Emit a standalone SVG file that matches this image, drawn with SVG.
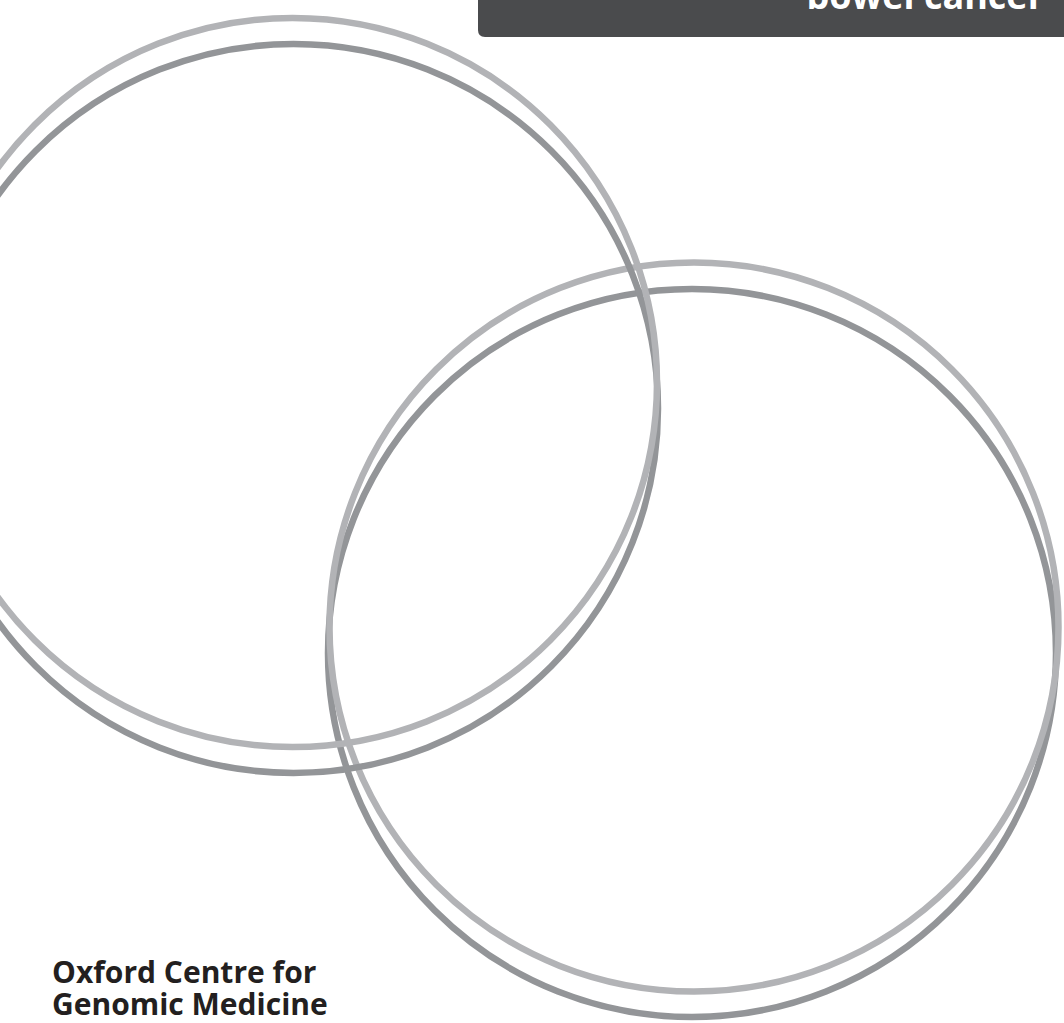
<svg xmlns="http://www.w3.org/2000/svg" width="1064" height="1023" viewBox="0 0 1064 1023">
<style>
.ring{fill:none;stroke-width:6.5}
.light{stroke:#b2b3b6}
.dark{stroke:#939598}
.t{font-family:"Open Sans","Liberation Sans",sans-serif;font-weight:700}
</style>
<rect width="1064" height="1023" fill="#ffffff"/>
<g id="rings">
<circle class="ring dark" cx="692" cy="653" r="364"/>
<circle class="ring light" cx="694" cy="627" r="364.5"/>
<circle class="ring dark" cx="293.5" cy="408.5" r="364.5"/>
<circle class="ring light" cx="292.5" cy="382.5" r="364.5"/>
</g>
<g id="banner">
<path d="M478 0 H1064 V37 H485 Q478 37 478 30 Z" fill="#4a4b4d"/>
<text class="t" x="1044" y="9" font-size="36" fill="#ffffff" text-anchor="end">bowel cancer</text>
</g>
<g id="title">
<text class="t" x="52" y="983" font-size="30" fill="#231f20">Oxford Centre for</text>
<text class="t" x="52" y="1015" font-size="30" fill="#231f20">Genomic Medicine</text>
</g>
</svg>
